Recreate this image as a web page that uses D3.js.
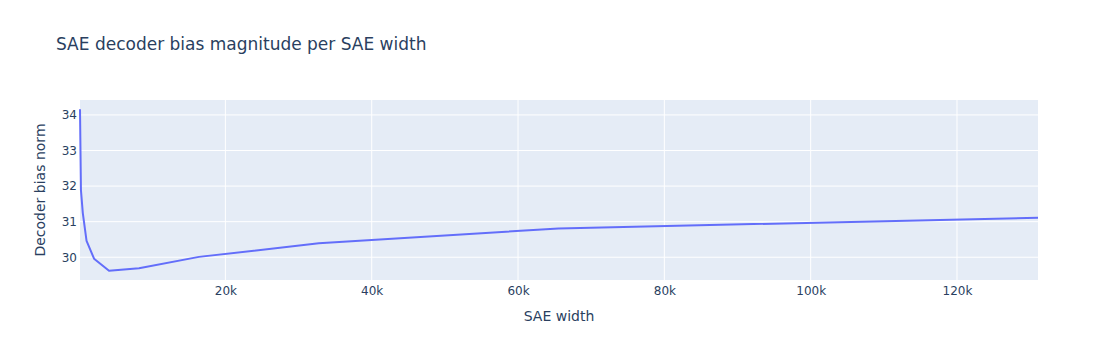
<!DOCTYPE html>
<html>
<head>
<meta charset="utf-8">
<script src="https://cdn.jsdelivr.net/npm/d3@7"></script>
<style>
  html, body { margin: 0; padding: 0; background: #fff; }
  svg { display: block; font-family: "DejaVu Sans", Verdana, sans-serif; }
</style>
</head>
<body>
<svg id="chart" width="1118" height="360"></svg>
<script>
// Data
const saeWidths = [128, 256, 512, 1024, 2048, 4096, 8192, 16384, 32768, 65536, 131072];
const biasNorms = [34.16, 31.89, 31.24, 30.46, 29.96, 29.62, 29.69, 30.01, 30.39, 30.81, 31.11];
const xTickValues = [20000, 40000, 60000, 80000, 100000, 120000];
const xTickLabels = ["20k", "40k", "60k", "80k", "100k", "120k"];
const yTickValues = [30, 31, 32, 33, 34];
const yDomain = [29.36, 34.42];

const W = 1118, H = 360;
const m = { l: 80, r: 80, t: 100, b: 80 };
const pw = W - m.l - m.r, ph = H - m.t - m.b;
const textColor = "#2a3f5f";
const fontFam = "'DejaVu Sans', Verdana, sans-serif";

const svg = d3.select("#chart");

const x = d3.scaleLinear().domain(d3.extent(saeWidths)).range([m.l, m.l + pw]);
const y = d3.scaleLinear().domain(yDomain).range([m.t + ph, m.t]);

// plot background
svg.append("rect").attr("x", m.l).attr("y", m.t).attr("width", pw).attr("height", ph).attr("fill", "#E5ECF6");

// grid lines
const g = svg.append("g");
g.selectAll(".gx").data(xTickValues).join("line")
  .attr("x1", d => x(d)).attr("x2", d => x(d))
  .attr("y1", m.t).attr("y2", m.t + ph)
  .attr("stroke", "#fff").attr("stroke-width", 1);
g.selectAll(".gy").data(yTickValues).join("line")
  .attr("x1", m.l).attr("x2", m.l + pw)
  .attr("y1", d => y(d)).attr("y2", d => y(d))
  .attr("stroke", "#fff").attr("stroke-width", 1);

// x axis
const xAxis = d3.axisBottom(x).tickValues(xTickValues)
  .tickFormat((d, i) => xTickLabels[i]).tickSize(0).tickPadding(0);
const gx = svg.append("g").attr("transform", `translate(0,${m.t + ph})`).call(xAxis);
gx.select(".domain").remove();
gx.selectAll("text").attr("fill", textColor).attr("font-size", 12)
  .attr("font-family", fontFam).attr("dy", null).attr("y", 14.5);

// y axis
const yAxis = d3.axisLeft(y).tickValues(yTickValues).tickFormat(d3.format("d"))
  .tickSize(0).tickPadding(3);
const gy = svg.append("g").attr("transform", `translate(${m.l},0)`).call(yAxis);
gy.select(".domain").remove();
gy.selectAll("text").attr("fill", textColor).attr("font-size", 12)
  .attr("font-family", fontFam);

// line
const line = d3.line().x((d, i) => x(saeWidths[i])).y(d => y(d));
svg.append("path").datum(biasNorms)
  .attr("d", line)
  .attr("fill", "none").attr("stroke", "#636efa").attr("stroke-width", 2)
  .attr("stroke-linejoin", "round");

// title
svg.append("text").attr("x", 56).attr("y", 50)
  .attr("fill", textColor).attr("font-size", 17)
  .text("SAE decoder bias magnitude per SAE width");

// axis titles
svg.append("text").attr("x", m.l + pw / 2).attr("y", 320.5)
  .attr("text-anchor", "middle").attr("fill", textColor).attr("font-size", 14)
  .text("SAE width");
svg.append("text")
  .attr("transform", `translate(45,${m.t + ph / 2}) rotate(-90)`)
  .attr("text-anchor", "middle").attr("fill", textColor).attr("font-size", 14)
  .text("Decoder bias norm");
</script>
</body>
</html>
